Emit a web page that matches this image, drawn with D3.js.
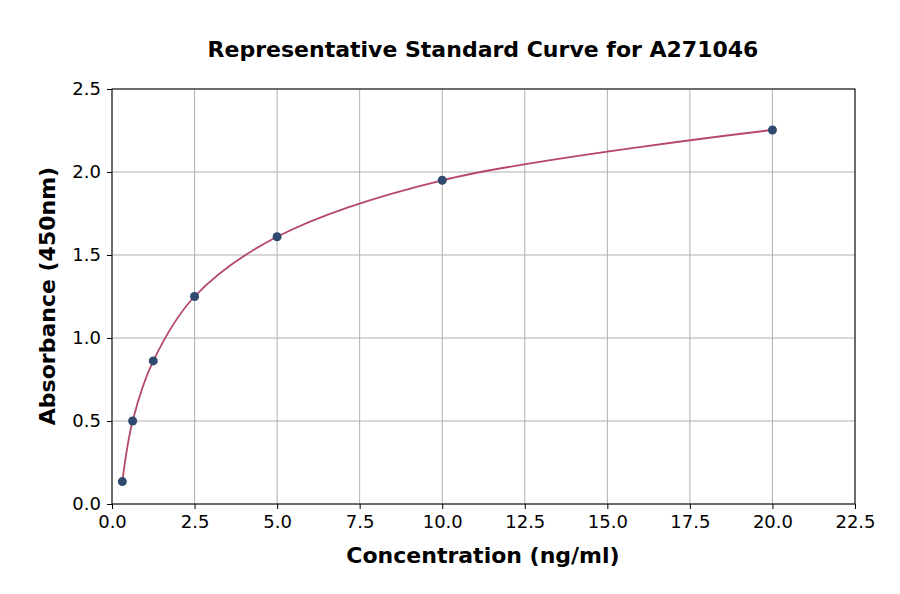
<!DOCTYPE html>
<html><head><meta charset="utf-8">
<script src="https://cdn.jsdelivr.net/npm/d3@7"></script>
<style>body{margin:0;background:#fff;}svg{display:block;}</style>
</head><body>
<svg id="c" width="900" height="594"></svg>
<script>
const concentrations = [0.3125, 0.625, 1.25, 2.5, 5, 10, 20];
const absorbance = [0.135, 0.50, 0.862, 1.25, 1.61, 1.95, 2.253];
const xTicks = [0, 2.5, 5, 7.5, 10, 12.5, 15, 17.5, 20, 22.5];
const yTicks = [0, 0.5, 1.0, 1.5, 2.0, 2.5];
const title = "Representative Standard Curve for A271046";
const xLabel = "Concentration (ng/ml)";
const yLabel = "Absorbance (450nm)";

const svg = d3.select("#c");
const m = {l:112, r:855, t:89, b:504};
const x = d3.scaleLinear().domain([0, 22.5]).range([m.l, m.r]);
const y = d3.scaleLinear().domain([0, 2.5]).range([m.b, m.t]);
const font = "DejaVu Sans, sans-serif";

// grid
svg.append("g").selectAll("line").data(xTicks).join("line")
  .attr("x1", d=>x(d)).attr("x2", d=>x(d)).attr("y1", m.t).attr("y2", m.b)
  .attr("stroke", "#b0b0b0").attr("stroke-width", 1);
svg.append("g").selectAll("line").data(yTicks).join("line")
  .attr("y1", d=>y(d)).attr("y2", d=>y(d)).attr("x1", m.l).attr("x2", m.r)
  .attr("stroke", "#b0b0b0").attr("stroke-width", 1);

// axes
const xa = svg.append("g").attr("transform", `translate(0,${m.b})`)
  .call(d3.axisBottom(x).tickValues(xTicks).tickFormat(d3.format(".1f")).tickSize(5).tickPadding(6));
const ya = svg.append("g").attr("transform", `translate(${m.l},0)`)
  .call(d3.axisLeft(y).tickValues(yTicks).tickFormat(d3.format(".1f")).tickSize(5).tickPadding(6));
[xa, ya].forEach(a => {
  a.selectAll("text").attr("font-family", font).attr("font-size", 18).attr("fill", "#000");
  a.selectAll("line").attr("stroke", "#000");
  a.select(".domain").remove();
});
// frame
svg.append("rect").attr("x", m.l).attr("y", m.t).attr("width", m.r - m.l).attr("height", m.b - m.t)
  .attr("fill", "none").attr("stroke", "#000").attr("stroke-width", 1);

// curve
const pts = concentrations.map((c, i) => [c, absorbance[i]]);
svg.append("path").datum(pts)
  .attr("d", d3.line().x(d=>x(d[0])).y(d=>y(d[1])).curve(d3.curveCatmullRom.alpha(0.5)))
  .attr("fill", "none").attr("stroke", "#b5476b").attr("stroke-width", 1.8);

// points
svg.append("g").selectAll("circle").data(pts).join("circle")
  .attr("cx", d=>x(d[0])).attr("cy", d=>y(d[1])).attr("r", 4.5)
  .attr("fill", "#2f4a6e");

// texts
svg.append("text").attr("x", 483).attr("y", 57).attr("text-anchor", "middle")
  .attr("font-family", font).attr("font-weight", "bold").attr("font-size", 22).text(title);
svg.append("text").attr("x", 483).attr("y", 563).attr("text-anchor", "middle")
  .attr("font-family", font).attr("font-weight", "bold").attr("font-size", 22).text(xLabel);
svg.append("text").attr("transform", "translate(55,296) rotate(-90)").attr("text-anchor", "middle")
  .attr("font-family", font).attr("font-weight", "bold").attr("font-size", 22).text(yLabel);
</script>
</body></html>
